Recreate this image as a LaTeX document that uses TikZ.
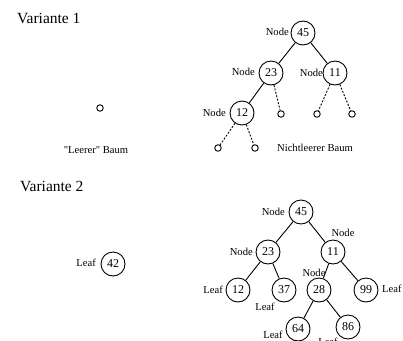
\documentclass[tikz,border=0pt]{standalone}
\usepackage{fontspec}
\setmainfont{Liberation Serif}
\newfontfamily\plainserif{Liberation Serif}[Ligatures=TeXOff]
\begin{document}
\begin{tikzpicture}[x=1pt,y=-1pt,
  num/.style={circle,draw,line width=0.9pt,minimum size=24pt,inner sep=0pt,font=\fontsize{12}{12}\selectfont},
  empty/.style={circle,draw,line width=0.9pt,minimum size=6.5pt,inner sep=0pt},
  lbl/.style={inner sep=0pt,font=\fontsize{10.6}{11}\selectfont},
  ttl/.style={inner sep=0pt,font=\fontsize{15.5}{16}\selectfont},
  edge/.style={line width=0.9pt},
  dedge/.style={line width=0.9pt,dash pattern=on 2pt off 1.5pt}]
\clip (0,0) rectangle (403,340);
\useasboundingbox (0,0) rectangle (403,340);
% Variante 1
\node[ttl,anchor=west] (t1) at (17,18) {Variante 1};
\node[empty] (z) at (100,108) {};
\node[lbl] (zl) at (96,150) {\plainserif "Leerer" Baum};
\node[num] (a45) at (303,33) {45};
\node[num] (a23) at (271,73) {23};
\node[num] (a11) at (335,73) {11};
\node[num] (a12) at (242,113) {12};
\node[empty] (e1) at (281,114) {};
\node[empty] (e2) at (317,114) {};
\node[empty] (e3) at (352,114) {};
\node[empty] (e4) at (218,148) {};
\node[empty] (e5) at (255,148) {};
\node[lbl,anchor=east] (la45) at (289,32) {Node};
\node[lbl,anchor=east] (la23) at (255,72) {Node};
\node[lbl,anchor=east] (la11) at (323,73) {Node};
\node[lbl,anchor=east] (la12) at (226,113) {Node};
\node[lbl] (nb) at (315,148) {Nichtleerer Baum};
\draw[edge] (a45) -- (a23);
\draw[edge] (a45) -- (a11);
\draw[edge] (a23) -- (a12);
\draw[dedge] (a23) -- (e1);
\draw[dedge] (a11) -- (e2);
\draw[dedge] (a11) -- (e3);
\draw[dedge] (a12) -- (e4);
\draw[dedge] (a12) -- (e5);
% Variante 2
\node[ttl,anchor=west] (t2) at (20,186) {Variante 2};
\node[num] (b42) at (113,264) {42};
\node[lbl,anchor=east] (lb42) at (96,263) {Leaf};
\node[num] (b45) at (301,212) {45};
\node[num] (b23) at (268,252) {23};
\node[num] (b11) at (333,252) {11};
\node[num] (b12) at (238,290) {12};
\node[num] (b37) at (284,290) {37};
\node[num] (b28) at (319,290) {28};
\node[num] (b99) at (366,290) {99};
\node[num] (b64) at (298,329) {64};
\node[num] (b86) at (348,327) {86};
\node[lbl,anchor=east] (lb45) at (285,212) {Node};
\node[lbl,anchor=east] (lb23) at (253,252) {Node};
\node[lbl] (lb11) at (343,233) {Node};
\node[lbl,anchor=east] (lb12) at (223,290) {Leaf};
\node[lbl] (lb37) at (265,307) {Leaf};
\node[lbl] (lb28) at (314,273) {Node};
\node[lbl,anchor=west] (lb99) at (382,289) {Leaf};
\node[lbl] (lb64) at (273,335) {Leaf};
\node[lbl] (lb86) at (328,342) {Leaf};
\draw[edge] (b45) -- (b23);
\draw[edge] (b45) -- (b11);
\draw[edge] (b23) -- (b12);
\draw[edge] (b23) -- (b37);
\draw[edge] (b11) -- (b28);
\draw[edge] (b11) -- (b99);
\draw[edge] (b28) -- (b64);
\draw[edge] (b28) -- (b86);
\end{tikzpicture}
\end{document}
